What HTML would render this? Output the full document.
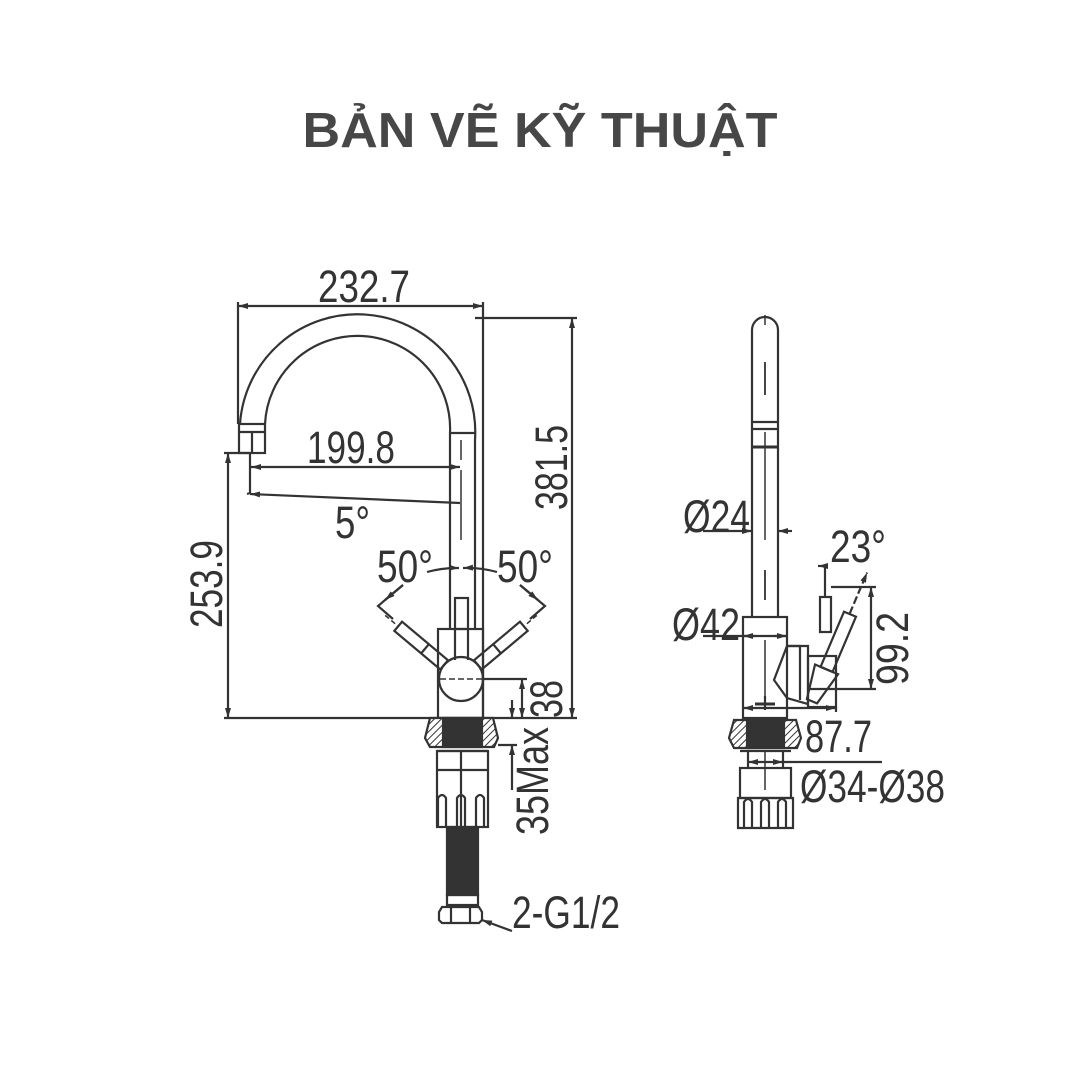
<!DOCTYPE html>
<html><head><meta charset="utf-8"><style>
html,body{margin:0;padding:0;background:#fff;}
svg{display:block;}
text{font-family:"Liberation Sans",sans-serif;fill:#333;}
</style></head><body>
<svg width="1081" height="1081" viewBox="0 0 1081 1081" xmlns="http://www.w3.org/2000/svg">
<defs>
<marker id="a" viewBox="0 0 10 6" refX="10" refY="3" markerWidth="10" markerHeight="6" orient="auto-start-reverse" markerUnits="userSpaceOnUse"><path d="M0,0 L10,3 L0,6 z" fill="#333"/></marker>
<pattern id="h" width="5" height="5" patternUnits="userSpaceOnUse" patternTransform="rotate(45)"><rect width="5" height="5" fill="#fff"/><line x1="0" y1="0" x2="0" y2="5" stroke="#333" stroke-width="2"/></pattern>
</defs>
<text x="540" y="147" font-size="49" font-weight="bold" text-anchor="middle" textLength="475" lengthAdjust="spacingAndGlyphs" style="fill:#474747">BẢN VẼ KỸ THUẬT</text>

<g stroke="#333" stroke-width="2.2" fill="none">
<line x1="238" y1="306" x2="483" y2="306" marker-start="url(#a)" marker-end="url(#a)"/>
<line x1="238" y1="302" x2="238" y2="424"/>
<line x1="483" y1="302" x2="483" y2="718"/>
<path d="M240,424 A117,117 0 0 1 475,440 L475,629"/>
<path d="M265,424 A92,92 0 0 1 450,433 L450,629"/>
<line x1="450" y1="433" x2="475" y2="433"/>
<rect x="239" y="424" width="26" height="29"/>
<line x1="239" y1="432" x2="265" y2="432"/>
<line x1="252" y1="432" x2="252" y2="453"/>
<line x1="461" y1="440" x2="461" y2="460" stroke-width="1.5"/>
<line x1="461" y1="470" x2="461" y2="540" stroke-width="1.5"/>
<line x1="251" y1="467" x2="460" y2="467" marker-start="url(#a)" marker-end="url(#a)"/>
<path d="M250,453 L250,493 L247,494"/>
<line x1="250" y1="494" x2="460" y2="503" marker-start="url(#a)"/>
<line x1="224" y1="453" x2="250" y2="453"/>
<line x1="228" y1="453" x2="228" y2="718" marker-start="url(#a)" marker-end="url(#a)"/>
<line x1="475" y1="318" x2="577" y2="318"/>
<line x1="572" y1="318" x2="572" y2="718" marker-start="url(#a)" marker-end="url(#a)"/>
<line x1="224" y1="718" x2="577" y2="718"/>
<rect x="438" y="629" width="45" height="89"/>
<rect x="455" y="598" width="13" height="31"/>
<line x1="455" y1="629" x2="455" y2="660"/><line x1="468" y1="629" x2="468" y2="660"/>
<circle cx="461" cy="679" r="22"/>
<g transform="rotate(-50 461 679)">
<rect x="455" y="597" width="12" height="60"/><line x1="455" y1="632" x2="467" y2="632"/>
<line x1="461" y1="580" x2="461" y2="597" stroke-width="1.5" stroke-dasharray="5 3"/>
</g>
<g transform="rotate(50 461 679)">
<rect x="455" y="597" width="12" height="60"/><line x1="455" y1="632" x2="467" y2="632"/>
<line x1="461" y1="580" x2="461" y2="597" stroke-width="1.5" stroke-dasharray="5 3"/>
</g>
<line x1="440" y1="679" x2="483" y2="679" stroke-width="1.5" stroke-dasharray="6 3"/>
<path d="M427,572 A110,110 0 0 1 459,568" marker-end="url(#a)"/>
<path d="M497,572 A110,110 0 0 0 463,568" marker-end="url(#a)"/>
<path d="M403,585 L378,606 L393,619" />
<line x1="385" y1="600" x2="403" y2="585" marker-start="url(#a)"/>
<path d="M520,585 L545,606 L530,619" />
<line x1="538" y1="600" x2="520" y2="585" marker-start="url(#a)"/>
<line x1="483" y1="679" x2="527" y2="679"/>
<line x1="522" y1="679" x2="522" y2="718" marker-start="url(#a)" marker-end="url(#a)"/>
<line x1="512" y1="700" x2="512" y2="718" marker-end="url(#a)"/>
<line x1="512" y1="790" x2="512" y2="745" marker-end="url(#a)"/>
<line x1="498" y1="745" x2="517" y2="745"/>
<path d="M430,718 L493,718 L498,738 L494,747 L430,747 L425,738 Z" fill="url(#h)"/>
<rect x="443" y="718" width="39" height="29" fill="#333"/>
<line x1="437" y1="751" x2="488" y2="751"/>
<rect x="437" y="751" width="51" height="76"/>
<line x1="437" y1="770" x2="488" y2="770"/>
<line x1="461" y1="751" x2="461" y2="827"/>
<path d="M438,827 L438,798 Q442,792 446,798 L446,827"/>
<path d="M457,827 L457,798 Q461,792 465,798 L465,827"/>
<path d="M476,827 L476,798 Q480,792 484,798 L484,827"/>
<rect x="447" y="827" width="31" height="68" fill="#333"/>
<rect x="447" y="895" width="31" height="10" fill="none"/>
<path d="M442,907 L479,907 L482,912 L482,920 L479,923 L442,923 L439,920 L439,912 Z"/>
<line x1="451" y1="907" x2="451" y2="923"/><line x1="470" y1="907" x2="470" y2="923"/>
<line x1="482" y1="920" x2="512" y2="931" marker-start="url(#a)"/>

<path d="M752,617 L752,330 A13,13 0 0 1 778,330 L778,617"/>
<line x1="765" y1="315" x2="765" y2="325" stroke-width="1.5"/>
<line x1="765" y1="362" x2="765" y2="395" stroke-width="1.8"/>
<line x1="752" y1="422" x2="778" y2="422"/><line x1="752" y1="429" x2="778" y2="429"/>
<line x1="752" y1="447" x2="778" y2="447" stroke-width="3"/>
<line x1="765" y1="432" x2="765" y2="540" stroke-width="1.5"/>
<line x1="765" y1="570" x2="765" y2="600" stroke-width="1.8"/>
<rect x="743" y="617" width="44" height="101"/>
<line x1="765" y1="640" x2="765" y2="700" stroke-width="1.5"/>
<line x1="703" y1="531" x2="752" y2="531" marker-end="url(#a)"/>
<line x1="792" y1="531" x2="778" y2="531" marker-end="url(#a)"/>
<line x1="703" y1="636" x2="787" y2="636"/>
<line x1="756" y1="636" x2="743" y2="636" marker-end="url(#a)"/>
<line x1="774" y1="636" x2="787" y2="636" marker-end="url(#a)"/>
<path d="M787,646 L808,646 L808,704 L787,698 L774,680 Z"/>
<path d="M787,646 L800,646 L800,700"/>
<rect x="808" y="656" width="28" height="51"/>
<rect x="820" y="597" width="11" height="35"/>
<line x1="825" y1="597" x2="825" y2="566"/>
<line x1="818" y1="566" x2="825" y2="566" marker-start="url(#a)"/>
<g transform="rotate(23 830 660)">
<rect x="824" y="610" width="13" height="60"/>
<polygon points="818,670 843,670 835,705 824,705"/>
<line x1="830" y1="610" x2="830" y2="565" stroke-dasharray="8 3" marker-end="url(#a)"/>
</g>
<line x1="831" y1="587" x2="876" y2="587"/>
<line x1="810" y1="689" x2="876" y2="689"/>
<line x1="871" y1="587" x2="871" y2="689" marker-start="url(#a)" marker-end="url(#a)"/>
<line x1="836" y1="707" x2="836" y2="712"/>
<line x1="743" y1="708" x2="836" y2="708" marker-start="url(#a)" marker-end="url(#a)"/>
<line x1="755" y1="704" x2="775" y2="704" stroke-width="3"/>
<line x1="765" y1="696" x2="765" y2="710"/>
<path d="M734,720 L796,720 L801,738 L797,748 L734,748 L729,738 Z" fill="url(#h)"/>
<rect x="747" y="720" width="37" height="28" fill="#333"/>
<line x1="740" y1="751" x2="791" y2="751"/>
<line x1="748" y1="751" x2="748" y2="768"/><line x1="783" y1="751" x2="783" y2="768"/>
<line x1="748" y1="762" x2="783" y2="762" marker-start="url(#a)" marker-end="url(#a)"/>
<line x1="783" y1="762" x2="882" y2="762"/>
<rect x="740" y="768" width="51" height="30"/>
<path d="M738,828 L738,798 L793,798 L793,828 Z"/>
<path d="M744,828 L744,802 Q748,796 752,802 L752,828"/>
<path d="M761,828 L761,802 Q765,796 769,802 L769,828"/>
<path d="M778,828 L778,802 Q782,796 786,802 L786,828"/>
<line x1="765" y1="752" x2="765" y2="790" stroke-width="1.5"/>
</g>

<g font-size="45">
<text x="318" y="302" textLength="92" lengthAdjust="spacingAndGlyphs">232.7</text>
<text x="307" y="463" textLength="88" lengthAdjust="spacingAndGlyphs">199.8</text>
<text x="335" y="538" textLength="35" lengthAdjust="spacingAndGlyphs">5°</text>
<text x="377" y="582" textLength="56" lengthAdjust="spacingAndGlyphs">50°</text>
<text x="497" y="582" textLength="56" lengthAdjust="spacingAndGlyphs">50°</text>
<text transform="translate(567,510) rotate(-90)" textLength="85" lengthAdjust="spacingAndGlyphs">381.5</text>
<text transform="translate(222,628) rotate(-90)" textLength="88" lengthAdjust="spacingAndGlyphs">253.9</text>
<text transform="translate(562,718) rotate(-90)" textLength="38" lengthAdjust="spacingAndGlyphs">38</text>
<text transform="translate(548,835) rotate(-90)" textLength="108" lengthAdjust="spacingAndGlyphs">35Max</text>
<text x="512" y="928" textLength="108" lengthAdjust="spacingAndGlyphs">2-G1/2</text>
<text x="683" y="532" textLength="67" lengthAdjust="spacingAndGlyphs">Ø24</text>
<text x="672" y="640" textLength="68" lengthAdjust="spacingAndGlyphs">Ø42</text>
<text x="830" y="562" textLength="56" lengthAdjust="spacingAndGlyphs">23°</text>
<text transform="translate(908,685) rotate(-90)" textLength="73" lengthAdjust="spacingAndGlyphs">99.2</text>
<text x="805" y="752" textLength="67" lengthAdjust="spacingAndGlyphs">87.7</text>
<text x="800" y="802" textLength="145" lengthAdjust="spacingAndGlyphs">Ø34-Ø38</text>
</g>
</svg>
</body></html>
